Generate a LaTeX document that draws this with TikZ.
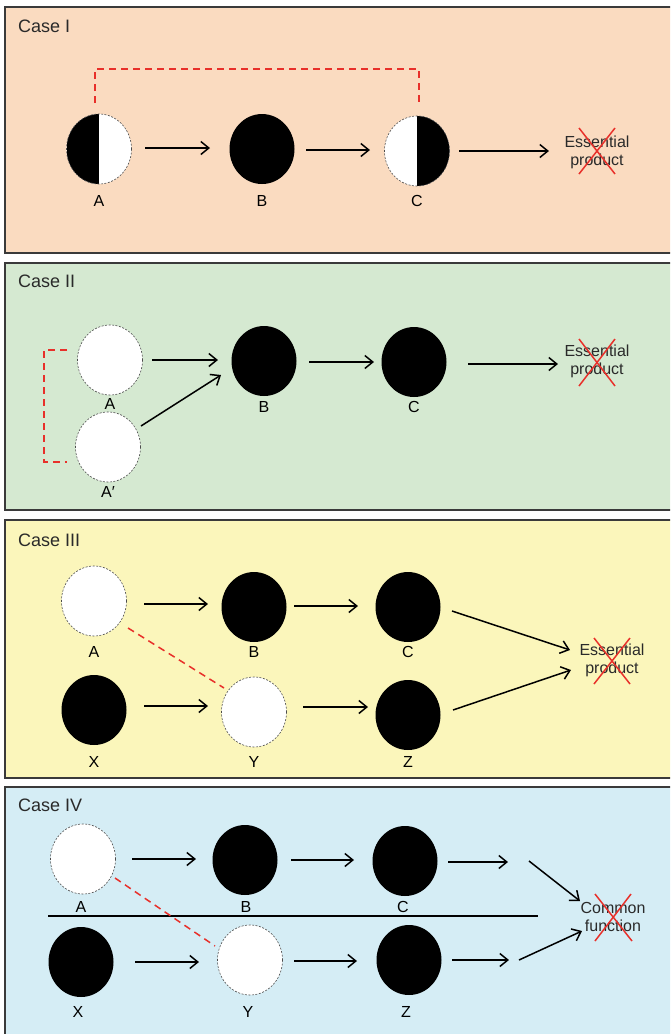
\documentclass[tikz,border=0pt]{standalone}
\usepackage{fontspec}
\setmainfont{Liberation Sans}
\usetikzlibrary{shapes.geometric,arrows.meta}
\definecolor{pOne}{HTML}{FADBC0}
\definecolor{pTwo}{HTML}{D5E9D1}
\definecolor{pThree}{HTML}{FBF6BB}
\definecolor{pFour}{HTML}{D5EDF5}
\definecolor{bordc}{HTML}{3A3A3A}
\definecolor{txtc}{HTML}{2A2A2A}
\definecolor{redc}{HTML}{E8302A}
\begin{document}
\begin{tikzpicture}[x=1pt,y=-1pt,
  panel/.style={draw=bordc, line width=1.4pt},
  cell/.style={ellipse, inner sep=0pt, minimum width=65pt, minimum height=70pt},
  full/.style={cell, fill=black},
  empty/.style={cell, fill=white, draw=gray!60!black, line width=0.6pt, dash pattern=on 2pt off 1.5pt},
  lbl/.style={font=\fontsize{16}{18}\selectfont, text=black, inner sep=0pt},
  title/.style={font=\fontsize{18}{21}\selectfont, text=txtc, anchor=base west, inner sep=0pt},
  prod/.style={font=\fontsize{16}{18}\selectfont, align=center, inner sep=0pt, text=txtc},
  arr/.style={-{Straight Barb[length=8pt,width=13pt]}, line width=1.5pt},
  reddash/.style={draw=redc, line width=1.5pt, dash pattern=on 7pt off 5pt},
  cross/.style={draw=redc, line width=1.5pt}]
\useasboundingbox (0,0) rectangle (670,1034);
\clip (0,0) rectangle (670,1034);

% panels
\draw[panel, fill=pOne] (5,7) rectangle (675,253);
\draw[panel, fill=pTwo] (5,263) rectangle (675,510);
\draw[panel, fill=pThree] (5,520) rectangle (675,778);
\draw[panel, fill=pFour] (5,787) rectangle (675,1040);

\node[title] (t1) at (18,32) {Case I};
\node[title] (t2) at (18,287) {Case II};
\node[title] (t3) at (18,546) {Case III};
\node[title] (t4) at (18,811) {Case IV};

% ---------- Case I
\node[empty, path picture={\fill[black] (path picture bounding box.south west) rectangle (path picture bounding box.north);}] (A1) at (99,149) {};
\node[full] (B1) at (262,149) {};
\node[empty, path picture={\fill[black] (path picture bounding box.north) rectangle (path picture bounding box.south east);}] (C1) at (417,151) {};
\node[lbl] (A1l) at (99,201) {A};
\node[lbl] (B1l) at (262,201) {B};
\node[lbl] (C1l) at (417,201) {C};
\node[prod] (E1) at (597,152) {Essential\\product};
\draw[arr] ([shift={(46,-1)}]A1.center) -- ([shift={(-52,-1)}]B1.center);
\draw[arr] ([shift={(44,1)}]B1.center) -- ([shift={(-47,-1)}]C1.center);
\draw[arr] ([shift={(42,0)}]C1.center) -- ([shift={(-48,-1)}]E1.center);
\draw[reddash] ([shift={(-4,-46)}]A1.center) |- ([shift={(2,-82)}]C1.center) -- ([shift={(2,-48)}]C1.center);
\draw[cross] ([shift={(-18,-24)}]E1.center) -- ([shift={(18,22)}]E1.center);
\draw[cross] ([shift={(18,-24)}]E1.center) -- ([shift={(-18,22)}]E1.center);

% ---------- Case II
\node[empty] (A2) at (110,360) {};
\node[empty] (Ap2) at (108,447) {};
\node[full] (B2) at (264,361) {};
\node[full] (C2) at (414,362) {};
\node[lbl] (A2l) at (110,404) {A};
\node[lbl] (Ap2l) at (108,492) {A′};
\node[lbl] (B2l) at (264,407) {B};
\node[lbl] (C2l) at (414,407) {C};
\node[prod] (E2) at (597,361) {Essential\\product};
\draw[arr] ([shift={(42,0)}]A2.center) -- ([shift={(-46,-1)}]B2.center);
\draw[arr] ([shift={(33,-21)}]Ap2.center) -- ([shift={(-43,14)}]B2.center);
\draw[arr] ([shift={(45,1)}]B2.center) -- ([shift={(-40,0)}]C2.center);
\draw[arr] ([shift={(54,2)}]C2.center) -- ([shift={(-39,3)}]E2.center);
\draw[reddash] ([shift={(-43,-10)}]A2.center) -- ++(-23,0) |- ([shift={(-41,15)}]Ap2.center);
\draw[cross] ([shift={(-18,-22)}]E2.center) -- ([shift={(18,25)}]E2.center);
\draw[cross] ([shift={(18,-22)}]E2.center) -- ([shift={(-18,25)}]E2.center);

% ---------- Case III
\node[empty] (A3) at (94,601) {};
\node[full] (B3) at (254,607) {};
\node[full] (C3) at (408,607) {};
\node[full] (X3) at (94,710) {};
\node[empty] (Y3) at (254,712) {};
\node[full] (Z3) at (408,715) {};
\node[lbl] (A3l) at (94,652) {A};
\node[lbl] (B3l) at (254,652) {B};
\node[lbl] (C3l) at (408,652) {C};
\node[lbl] (X3l) at (94,762) {X};
\node[lbl] (Y3l) at (254,762) {Y};
\node[lbl] (Z3l) at (408,762) {Z};
\node[prod] (E3) at (612,660) {Essential\\product};
\draw[arr] ([shift={(50,3)}]A3.center) -- ([shift={(-46,-3)}]B3.center);
\draw[arr] ([shift={(40,-1)}]B3.center) -- ([shift={(-50,-1)}]C3.center);
\draw[arr] ([shift={(50,-4)}]X3.center) -- ([shift={(-46,-6)}]Y3.center);
\draw[arr] ([shift={(49,-5)}]Y3.center) -- ([shift={(-40,-8)}]Z3.center);
\draw[arr] ([shift={(44,4)}]C3.center) -- ([shift={(-42,-10)}]E3.center);
\draw[arr] ([shift={(45,-5)}]Z3.center) -- ([shift={(-41,10)}]E3.center);
\draw[reddash] ([shift={(34,27)}]A3.center) -- ([shift={(-30,-24)}]Y3.center);
\draw[cross] ([shift={(-18,-22)}]E3.center) -- ([shift={(18,24)}]E3.center);
\draw[cross] ([shift={(18,-22)}]E3.center) -- ([shift={(-18,24)}]E3.center);

% ---------- Case IV
\node[empty] (A4) at (83,859) {};
\node[full] (B4) at (245,860) {};
\node[full] (C4) at (405,861) {};
\node[full] (X4) at (81,962) {};
\node[empty] (Y4) at (250,960) {};
\node[full] (Z4) at (409,960) {};
\node[lbl] (A4l) at (81,907) {A};
\node[lbl] (B4l) at (246,907) {B};
\node[lbl] (C4l) at (403,907) {C};
\node[lbl] (X4l) at (78,1012) {X};
\node[lbl] (Y4l) at (248,1012) {Y};
\node[lbl] (Z4l) at (406,1012) {Z};
\node[prod] (E4) at (613,917) {Common\\function};
\coordinate (c4end) at (508,862);
\coordinate (c4dia) at (529,861);
\coordinate (z4end) at (509,960);
\coordinate (z4dia) at (519,960);
\coordinate (barL) at (48,916);
\coordinate (barR) at (538,916);
\draw[line width=1.8pt] (barL) -- (barR);
\draw[arr] ([shift={(49,0)}]A4.center) -- ([shift={(-49,-1)}]B4.center);
\draw[arr] ([shift={(46,0)}]B4.center) -- ([shift={(-51,-1)}]C4.center);
\draw[arr] ([shift={(43,1)}]C4.center) -- (c4end);
\draw[arr] (c4dia) -- ([shift={(-33,-16)}]E4.center);
\draw[arr] ([shift={(54,0)}]X4.center) -- ([shift={(-51,2)}]Y4.center);
\draw[arr] ([shift={(44,1)}]Y4.center) -- ([shift={(-52,1)}]Z4.center);
\draw[arr] ([shift={(43,0)}]Z4.center) -- (z4end);
\draw[arr] (z4dia) -- ([shift={(-31,14)}]E4.center);
\draw[reddash] ([shift={(32,19)}]A4.center) -- ([shift={(-35,-14)}]Y4.center);
\draw[cross] ([shift={(-18,-23)}]E4.center) -- ([shift={(19,24)}]E4.center);
\draw[cross] ([shift={(18,-23)}]E4.center) -- ([shift={(-18,24)}]E4.center);
\end{tikzpicture}
\end{document}
